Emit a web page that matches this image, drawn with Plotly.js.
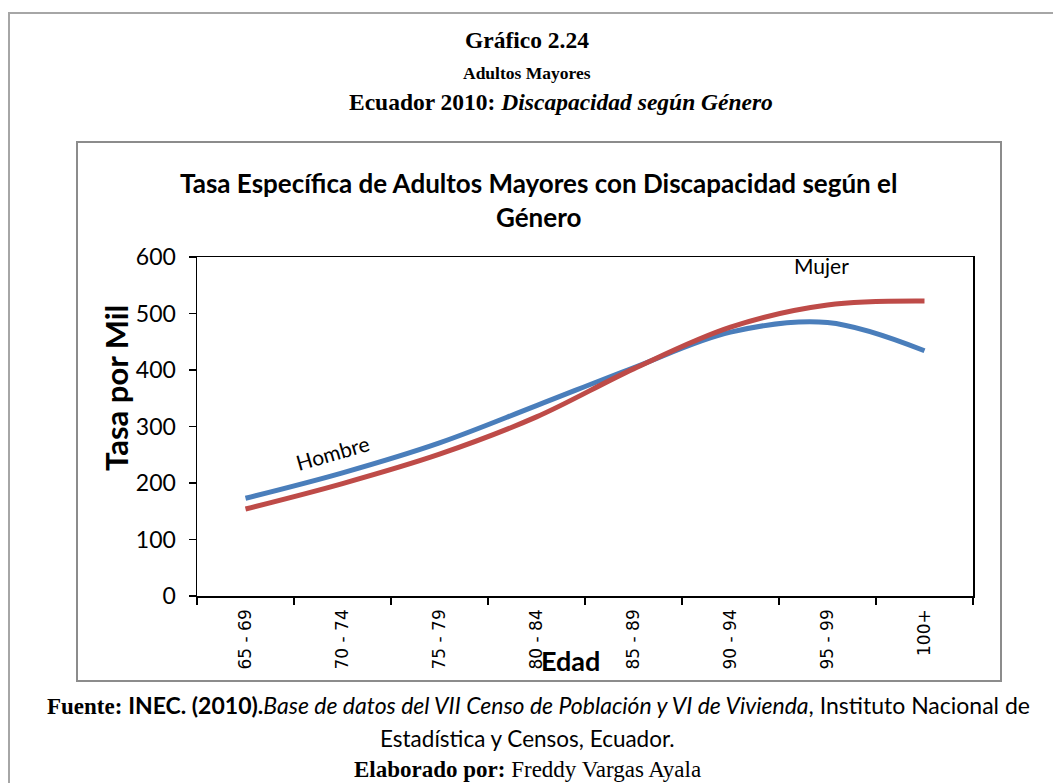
<!DOCTYPE html>
<html>
<head>
<meta charset="utf-8">
<script src="https://cdn.plot.ly/plotly-3.0.1.min.js"></script>
<style>
  html, body { margin: 0; padding: 0; background: #fff; }
  #chart { width: 1053px; height: 783px; }
</style>
</head>
<body>
<div id="chart"></div>
<script>
// ---- data ----
const categories = ["65 - 69", "70 - 74", "75 - 79", "80 - 84", "85 - 89", "90 - 94", "95 - 99", "100+"];
const hombre = [173, 218, 271, 337, 404, 467, 484, 434];
const mujer = [154, 199, 251, 317, 402, 476, 515, 522];
const yTicks = [0, 100, 200, 300, 400, 500, 600];

// ---- geometry (pixels) ----
const W = 1053, H = 783;
const L = 197, R = 973, T = 257, B = 596;
const px = x => (x - L) / (R - L);
const py = y => (B - y) / (B - T);

const sans = "Lato, 'Open Sans', sans-serif";
const serif = "'Liberation Serif', 'DejaVu Serif', serif";

const traces = [
  {
    x: categories, y: hombre, name: "Hombre", type: "scatter", mode: "lines",
    line: { color: "#4a7ebb", width: 5, shape: "spline", smoothing: 1 },
    hoverinfo: "x+y"
  },
  {
    x: categories, y: mujer, name: "Mujer", type: "scatter", mode: "lines",
    line: { color: "#be4b48", width: 5, shape: "spline", smoothing: 1 },
    hoverinfo: "x+y"
  }
];

function txt(text, x, y, size, opts) {
  return Object.assign({
    text: text, xref: "paper", yref: "paper", x: px(x), y: py(y),
    xanchor: "center", yanchor: "middle", showarrow: false,
    font: { family: sans, size: size, color: "#000" }
  }, opts || {});
}

const annotations = [
  txt("<b>Gráfico 2.24</b>", 527, 40, 23.5, { font: { family: serif, size: 23.5, color: "#000" } }),
  txt("<b>Adultos Mayores</b>", 527, 73, 17.5, { font: { family: serif, size: 17.5, color: "#000" } }),
  txt("<b>Ecuador 2010: <i>Discapacidad según Género</i></b>", 561, 102, 23.5, { font: { family: serif, size: 23.5, color: "#000" } }),
  txt("<b>Tasa Específica de Adultos Mayores con Discapacidad según el</b>", 538, 183, 26),
  txt("<b>Género</b>", 538, 217, 26),
  txt("<b>Tasa por Mil</b>", 116, 388, 31, { textangle: -90 }),
  txt("<b>Edad</b>", 570, 660, 27),
  {
    text: "Hombre", xref: "x", yref: "y", x: 0.9, y: 254, showarrow: false,
    textangle: -16, xanchor: "center", yanchor: "middle",
    font: { family: sans, size: 21, color: "#000" }
  },
  {
    text: "Mujer", xref: "x", yref: "y", x: 5.94, y: 585, showarrow: false,
    xanchor: "center", yanchor: "middle",
    font: { family: sans, size: 21, color: "#000" }
  },
  txt("<span style=\"font-family:'Liberation Serif'\"><b>Fuente: </b></span><b>INEC. (2010).</b><i>Base de datos del VII Censo de Población y VI de Vivienda</i>, Instituto Nacional de", 538, 705, 23),
  txt("Estadística y Censos, Ecuador.", 527, 738, 22.5),
  txt("<b>Elaborado por:</b> Freddy Vargas Ayala", 527, 769, 23, { font: { family: serif, size: 23, color: "#000" } })
];

const shapes = [
  // outer frame
  { type: "rect", xref: "paper", yref: "paper", x0: px(9), x1: px(1070), y0: py(13), y1: py(820),
    line: { color: "#a6a6a6", width: 2 }, fillcolor: "rgba(0,0,0,0)", layer: "below" },
  // chart frame
  { type: "rect", xref: "paper", yref: "paper", x0: px(77), x1: px(1001), y0: py(142), y1: py(681),
    line: { color: "#8c8c8c", width: 2 }, fillcolor: "rgba(0,0,0,0)", layer: "below" }
];

const layout = {
  width: W, height: H,
  margin: { l: L, r: W - R, t: T, b: H - B, pad: 0 },
  paper_bgcolor: "#fff", plot_bgcolor: "#fff",
  showlegend: false,
  xaxis: {
    type: "category", range: [-0.5, 7.5], fixedrange: true,
    showline: true, linecolor: "#000", linewidth: 1.5, mirror: true,
    ticks: "outside", ticklen: 7, tickcolor: "#000", tickwidth: 1.5,
    tickson: "boundaries", showgrid: false, tickangle: -90,
    ticklabelstandoff: 5,
    tickfont: { family: "'DejaVu Sans', Verdana, sans-serif", size: 17, color: "#000" },
    zeroline: false
  },
  yaxis: {
    range: [0, 600], tickvals: yTicks, fixedrange: true,
    showline: true, linecolor: "#000", linewidth: 1.5, mirror: true,
    ticks: "outside", ticklen: 7, tickcolor: "#000", tickwidth: 1.5,
    ticklabelstandoff: 8,
    showgrid: false, zeroline: false,
    tickfont: { family: sans, size: 23, color: "#000" }
  },
  annotations: annotations,
  shapes: shapes
};

Plotly.newPlot("chart", traces, layout, { displayModeBar: false, staticPlot: true });
</script>
</body>
</html>
